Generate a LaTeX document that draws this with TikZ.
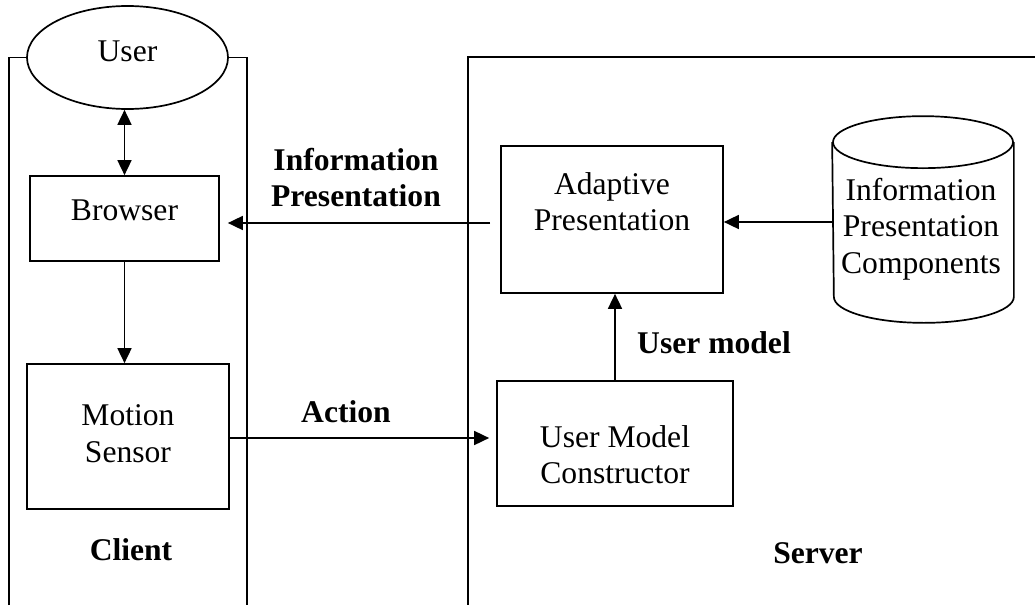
\documentclass[tikz,border=0pt]{standalone}
\usepackage{fontspec}
\setmainfont{Liberation Serif}
\usetikzlibrary{shapes.geometric,arrows.meta,calc}
\begin{document}
\begin{tikzpicture}[x=1pt,y=-1pt,line width=1.7pt,
  font=\fontsize{31.6}{36.5}\selectfont,
  box/.style={draw,rectangle,inner sep=0pt},
  lbl/.style={inner sep=0pt,align=center},
  bold/.style={inner sep=0pt,align=center,font=\fontsize{31.6}{36.5}\selectfont\bfseries},
  arr/.style={-{Triangle[length=15pt,width=14pt]}},
  darr/.style={{Triangle[length=15pt,width=14pt]}-{Triangle[length=15pt,width=14pt]}}]
\useasboundingbox (0,0) rectangle (1035,605);

% nodes
\node[ellipse,draw,inner sep=0pt,minimum width=201pt,minimum height=103pt] (user) at (127.5,57.5) {};
\node[lbl,anchor=base] (userlabel) at (127.5,61) {User};

\node[box,minimum width=189pt,minimum height=85pt] (browser) at (124.5,218.5) {};
\node[lbl,anchor=base] (browserlabel) at (124.5,220) {Browser};

\node[box,minimum width=202pt,minimum height=145pt] (motion) at (128,436.5) {};
\node[lbl] (motionlabel) at (128,433.5) {Motion\\Sensor};

\node[box,minimum width=222pt,minimum height=147pt] (adaptive) at (612,219.5) {};
\node[lbl] (adaptivelabel) at (612,201.5) {Adaptive\\Presentation};

\node[box,minimum width=236pt,minimum height=125pt] (umc) at (615,443.5) {};
\node[lbl] (umclabel) at (615,454.5) {User Model\\Constructor};

% cylinder
\node[inner sep=0pt,minimum width=180pt,minimum height=153pt] (cyl) at (923,219.5) {};
\draw (cyl.north east) -- (cyl.south east) arc (0:-180:90pt and 26pt) -- (cyl.north west);
\draw (cyl.north) ellipse [x radius=90pt,y radius=26pt];
\node[lbl] (cyllabel) at (921,229.2) {Information\\Presentation\\Components};

% panels
\draw (9,605) |- (user.west);
\draw (user.east) -| (247,605);
\draw (1035,57) -| (468,605);

% labels
\node[bold] (infolabel) at (356,177.4) {Information\\Presentation};
\node[bold,anchor=base] (actionlabel) at (346,422) {Action};
\node[bold,anchor=base] (usermodellabel) at (714,353) {User model};
\node[bold,anchor=base] (clientlabel) at (131,560) {Client};
\node[bold,anchor=base] (serverlabel) at (818,563) {Server};

% connectors
\draw[darr] (browser.north |- user.south) -- (browser.north);
\draw[arr] (browser.south) -- (browser.south |- motion.north);
\draw[arr,shorten <=10pt,shorten >=8pt] ([yshift=-3.5pt]adaptive.west) -- ([yshift=-4.5pt]browser.east);
\draw[arr] ([yshift=-2.5pt]cyl.west) -- ([yshift=-2.5pt]adaptive.east);
\draw[arr,shorten >=7pt] ([yshift=-1.5pt]motion.east) -- ([yshift=-1.5pt]motion.east -| umc.west);
\draw[arr] (umc.north) -- (umc.north |- adaptive.south);
\end{tikzpicture}
\end{document}
